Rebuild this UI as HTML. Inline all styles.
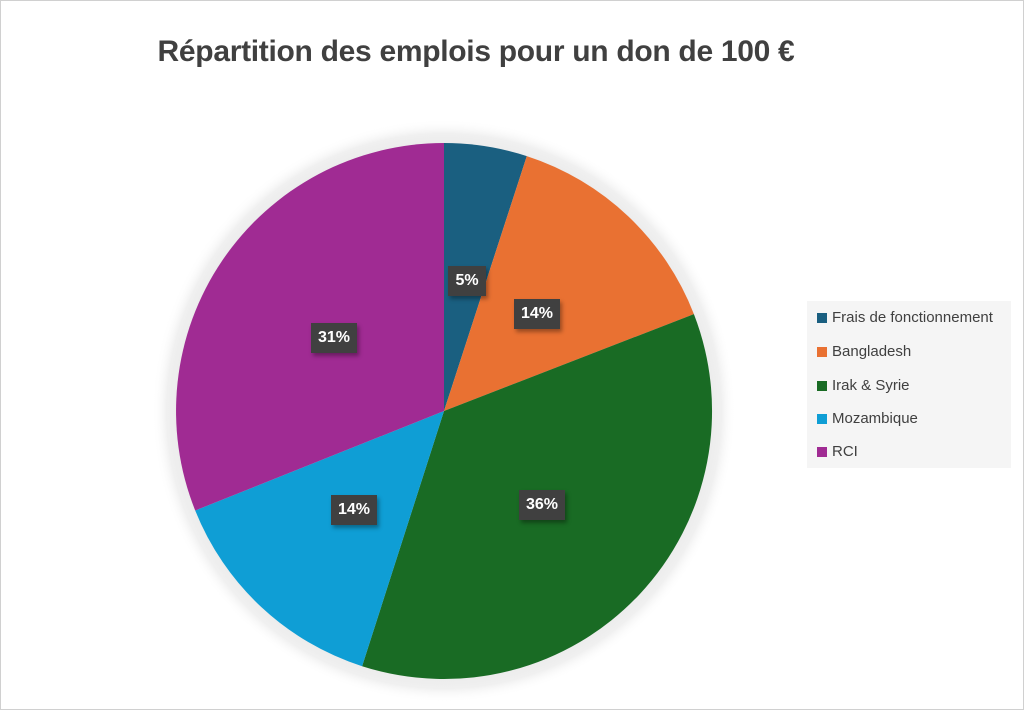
<!DOCTYPE html>
<html><head><meta charset="utf-8"><style>
body{margin:0;background:#fff;}
.c{position:absolute;left:0;top:0;width:1022px;height:708px;border:1px solid #d0d0d0;background:#fff;}
.t{position:absolute;left:0;width:950px;top:34px;text-align:center;font:bold 30px "Liberation Sans",sans-serif;color:#404040;letter-spacing:-0.3px;}
.lb{position:absolute;background:#404040;color:#fff;font:bold 16px "Liberation Sans",sans-serif;height:30px;line-height:30px;text-align:center;box-shadow:2px 3px 4px rgba(0,0,0,0.35);}
.lg{position:absolute;left:806px;top:300px;width:204px;height:167px;background:#f5f5f5;font:15px "Liberation Sans",sans-serif;color:#404040;}
.lg div{position:absolute;left:10px;height:20px;line-height:20px;}
.lg span{display:inline-block;width:10px;height:10px;margin-right:5px;vertical-align:-1px;}
</style></head><body>
<div class="c">
<div class="t">Répartition des emplois pour un don de 100 €</div>
<svg width="1024" height="710" style="position:absolute;left:-1px;top:-1px">
<defs><radialGradient id="h"><stop offset="0.88" stop-color="#e8e8e8"/><stop offset="0.95" stop-color="#f0f0f0"/><stop offset="1" stop-color="#fff" stop-opacity="0"/></radialGradient></defs>
<circle cx="444" cy="411" r="292" fill="url(#h)"/>
<path d="M444 411 L444 143 A268 268 0 0 1 526.8 156.1Z" fill="#1a5f80"/>
<path d="M444 411 L526.8 156.1 A268 268 0 0 1 693.9 314.1Z" fill="#e97132"/>
<path d="M444 411 L693.9 314.1 A268 268 0 0 1 362.1 666.2Z" fill="#196b24"/>
<path d="M444 411 L362.1 666.2 A268 268 0 0 1 195.2 510.5Z" fill="#0f9ed5"/>
<path d="M444 411 L195.2 510.5 A268 268 0 0 1 444 143Z" fill="#a02b93"/>
</svg>
<div class="lb" style="left:447px;top:265px;width:38px">5%</div>
<div class="lb" style="left:513px;top:298px;width:46px">14%</div>
<div class="lb" style="left:310px;top:322px;width:46px">31%</div>
<div class="lb" style="left:330px;top:494px;width:46px">14%</div>
<div class="lb" style="left:518px;top:489px;width:46px">36%</div>
<div class="lg">
<div style="top:7px"><span style="background:#1a5f80"></span>Frais de fonctionnement</div>
<div style="top:41px"><span style="background:#e97132"></span>Bangladesh</div>
<div style="top:75px"><span style="background:#196b24"></span>Irak &amp; Syrie</div>
<div style="top:108px"><span style="background:#0f9ed5"></span>Mozambique</div>
<div style="top:141px"><span style="background:#a02b93"></span>RCI</div>
</div>
</div>
</body></html>
